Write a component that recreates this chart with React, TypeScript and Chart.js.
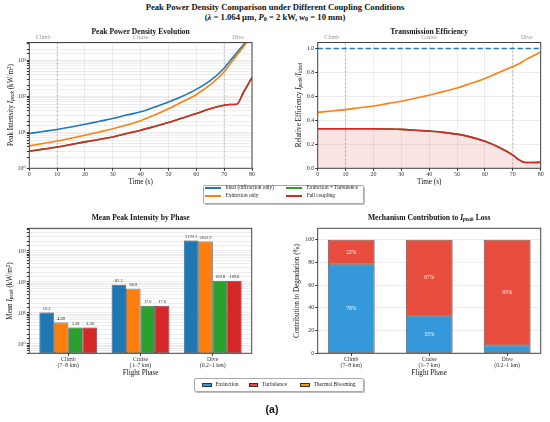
import { Chart, registerables } from "chart.js"
import type { ChartConfiguration, Plugin } from "chart.js"
import { useEffect, useRef } from "react"

Chart.register(...registerables)

const SERIF = '"Liberation Serif", "Times New Roman", "DejaVu Serif", serif'
Chart.defaults.font.family = SERIF
Chart.defaults.color = "#333"

// time axis (s) shared by the two line panels
const TIME = [0, 5, 10, 15, 20, 25, 30, 35, 40, 45, 50, 55, 60, 65, 70, 72, 74.5, 77, 80]

// peak intensity (kW/m^2)
const IDEAL_PEAK = [9.2, 10.5, 12, 14, 16.6, 20, 24, 30, 37, 50, 69, 100, 155, 270, 600, 930, 1590, 2740, 5200]
const EXT_PEAK = [4.2, 4.9, 5.7, 6.8, 8.3, 10.2, 12.6, 16, 21, 30, 45, 70, 112, 210, 480, 760, 1350, 2400, 4800]
const EXT_TURB_PEAK = [3.0, 3.4, 3.9, 4.6, 5.4, 6.3, 7.4, 9.2, 11.4, 14.5, 18.6, 25, 33, 45, 56, 59, 60, 131, 330]
const FULL_PEAK = [3.0, 3.4, 3.9, 4.6, 5.4, 6.3, 7.4, 9.2, 11.4, 14.5, 18.6, 25, 33, 45, 56, 59, 60, 131, 330]

// relative efficiency I_peak / I_ideal
const IDEAL_RATIO = [1, 1, 1, 1, 1, 1, 1, 1, 1, 1, 1, 1, 1, 1, 1, 1, 1, 1, 1]
const EXT_RATIO = [0.467, 0.478, 0.49, 0.505, 0.52, 0.54, 0.56, 0.585, 0.61, 0.64, 0.67, 0.71, 0.75, 0.8, 0.85, 0.87, 0.905, 0.935, 0.97]
const EXT_TURB_RATIO = [0.33, 0.33, 0.33, 0.33, 0.33, 0.328, 0.325, 0.318, 0.31, 0.3, 0.285, 0.26, 0.225, 0.175, 0.11, 0.075, 0.048, 0.048, 0.05]
const FULL_RATIO = [0.33, 0.33, 0.33, 0.33, 0.33, 0.328, 0.325, 0.318, 0.31, 0.3, 0.285, 0.26, 0.225, 0.175, 0.11, 0.075, 0.048, 0.048, 0.05]

const PHASE_LINES = [10, 70]
const PHASE_NAMES = ["Climb", "Cruise", "Dive"]
const PHASE_LABEL_AT = [5, 40, 75]

// per-phase bars
const PHASES = [
	["Climb", "(7–8 km)"],
	["Cruise", "(1–7 km)"],
	["Dive", "(0.2–1 km)"],
]
const MEAN_IDEAL = [10.3, 82.2, 2179.1]
const MEAN_EXT = [4.89, 60.9, 2032.9]
const MEAN_EXT_TURB = [3.38, 17.0, 109.8]
const MEAN_FULL = [3.38, 17.0, 109.8]

const SHARE_EXT = [78, 33, 7]
const SHARE_TURB = [22, 67, 93]
const SHARE_THERMAL = [0, 0, 0]

const C = {
	blue: "#1f77b4",
	orange: "#ff7f0e",
	green: "#2ca02c",
	red: "#d62728",
	ext: "#3498db",
	turb: "#e74c3c",
	thermal: "#f39c12",
}

const SUP: Record<number, string> = { 0: "⁰", 1: "¹", 2: "²", 3: "³", 4: "⁴" }

type Box = { x: number; y: number; w: number; h: number }
type Plot = { left: number; top: number; right: number; bottom: number }

function frame(box: Box, plot: Plot) {
	return {
		padding: { left: 0, top: plot.top - box.y, right: box.x + box.w - plot.right, bottom: 0 },
		yWidth: plot.left - box.x,
		xHeight: box.y + box.h - plot.bottom,
	}
}

const isDecade = (v: number) => {
	const e = Math.log10(v)
	return Math.abs(e - Math.round(e)) < 1e-6
}

const logLabel = (v: number | string) => {
	const n = Number(v)
	return isDecade(n) ? "10" + SUP[Math.round(Math.log10(n))] : ""
}

const frameBorder: Plugin = {
	id: "frameBorder",
	afterDraw(chart) {
		const { ctx, chartArea: a } = chart
		ctx.save()
		ctx.strokeStyle = "#444"
		ctx.lineWidth = 1
		ctx.strokeRect(a.left, a.top, a.right - a.left, a.bottom - a.top)
		ctx.restore()
	},
}

const phaseMarks: Plugin = {
	id: "phaseMarks",
	beforeDatasetsDraw(chart) {
		const { ctx, chartArea: a } = chart
		const xs = chart.scales.x
		ctx.save()
		ctx.strokeStyle = "rgba(120,120,120,0.6)"
		ctx.lineWidth = 0.8
		ctx.setLineDash([2, 2])
		PHASE_LINES.forEach((t) => {
			const px = xs.getPixelForValue(t)
			ctx.beginPath()
			ctx.moveTo(px, a.top)
			ctx.lineTo(px, a.bottom)
			ctx.stroke()
		})
		ctx.restore()
	},
	afterDraw(chart) {
		const { ctx, chartArea: a } = chart
		const xs = chart.scales.x
		ctx.save()
		ctx.fillStyle = "#999"
		ctx.font = `6px ${SERIF}`
		ctx.textAlign = "center"
		ctx.textBaseline = "middle"
		PHASE_NAMES.forEach((n, i) => ctx.fillText(n, xs.getPixelForValue(PHASE_LABEL_AT[i]), a.top - 5.5))
		ctx.restore()
	},
}

const barValueLabels: Plugin = {
	id: "barValueLabels",
	afterDatasetsDraw(chart) {
		const { ctx } = chart
		ctx.save()
		ctx.fillStyle = "#222"
		ctx.font = `4.4px ${SERIF}`
		ctx.textAlign = "center"
		ctx.textBaseline = "bottom"
		chart.data.datasets.forEach((ds, di) => {
			chart.getDatasetMeta(di).data.forEach((bar, i) => {
				const v = (ds.data[i] as { y: number }).y
				ctx.fillText(v >= 10 ? v.toFixed(1) : v.toFixed(2), bar.x, bar.y - 1.5)
			})
		})
		ctx.restore()
	},
}

const shareLabels: Plugin = {
	id: "shareLabels",
	afterDatasetsDraw(chart) {
		const { ctx } = chart
		ctx.save()
		ctx.fillStyle = "#fff"
		ctx.font = `5.5px ${SERIF}`
		ctx.textAlign = "center"
		ctx.textBaseline = "middle"
		chart.data.datasets.forEach((ds, di) => {
			chart.getDatasetMeta(di).data.forEach((bar: any, i) => {
				const v = (ds.data[i] as { y: number }).y
				if (v < 10) return
				ctx.fillText(`${Math.round(v)}%`, bar.x, (bar.y + bar.base) / 2)
			})
		})
		ctx.restore()
	},
}

const GRID = "rgba(0,0,0,0.07)"

function pts(xs: number[], ys: number[]) {
	return xs.map((x, i) => ({ x, y: ys[i] }))
}

// order: lower numbers are painted last, so the full-coupling line sits on top
function lineDs(label: string, data: number[], color: string, order: number, extra: object = {}) {
	return {
		label,
		data: pts(TIME, data),
		borderColor: color,
		backgroundColor: color,
		borderWidth: 1.6,
		pointRadius: 0,
		cubicInterpolationMode: "monotone" as const,
		fill: false,
		order,
		...extra,
	}
}

function timeAxis(f: ReturnType<typeof frame>) {
	return {
		type: "linear" as const,
		min: 0,
		max: 80,
		ticks: { stepSize: 10, font: { size: 6 }, padding: 0.5, maxRotation: 0, autoSkip: false },
		grid: { color: GRID, tickColor: "#333", tickLength: 2.5 },
		border: { display: false },
		afterFit: (s: any) => {
			s.height = f.xHeight
		},
	}
}

const BOX1: Box = { x: 0, y: 26, w: 262, h: 160 }
const PLOT1: Plot = { left: 29.3, top: 42.5, right: 252, bottom: 168.3 }
const BOX2: Box = { x: 280, y: 26, w: 270, h: 160 }
const PLOT2: Plot = { left: 317.7, top: 42.5, right: 540.7, bottom: 168.3 }
const BOX3: Box = { x: 0, y: 222, w: 262, h: 150 }
const PLOT3: Plot = { left: 29.3, top: 228.3, right: 251.7, bottom: 353.3 }
const BOX4: Box = { x: 280, y: 222, w: 270, h: 150 }
const PLOT4: Plot = { left: 317.7, top: 228.3, right: 540.7, bottom: 353.3 }

function peakConfig(): ChartConfiguration {
	const f = frame(BOX1, PLOT1)
	return {
		type: "line",
		data: {
			datasets: [
				lineDs("Ideal (diffraction only)", IDEAL_PEAK, C.blue, 2),
				lineDs("Extinction only", EXT_PEAK, C.orange, 1),
				lineDs("Extinction + Turbulence", EXT_TURB_PEAK, C.green, 3),
				lineDs("Full coupling", FULL_PEAK, C.red, 0),
			],
		},
		options: {
			animation: false,
			responsive: false,
			layout: { padding: f.padding },
			plugins: { legend: { display: false }, tooltip: { enabled: false } },
			scales: {
				x: timeAxis(f),
				y: {
					type: "logarithmic",
					min: 1,
					max: 3100,
					ticks: { callback: logLabel, font: { size: 6 }, padding: 1, autoSkip: false },
					grid: { color: GRID, tickColor: "#333", tickLength: 2.5 },
					border: { display: false },
					afterFit: (s: any) => {
						s.width = f.yWidth
					},
				},
			},
		},
		plugins: [phaseMarks, frameBorder],
	}
}

function ratioConfig(): ChartConfiguration {
	const f = frame(BOX2, PLOT2)
	return {
		type: "line",
		data: {
			datasets: [
				lineDs("Ideal (diffraction only)", IDEAL_RATIO, C.blue, 2, { borderDash: [5, 3] }),
				lineDs("Extinction only", EXT_RATIO, C.orange, 1),
				lineDs("Extinction + Turbulence", EXT_TURB_RATIO, C.green, 3),
				lineDs("Full coupling", FULL_RATIO, C.red, 0, {
					fill: "origin",
					backgroundColor: "rgba(214,39,40,0.13)",
				}),
			],
		},
		options: {
			animation: false,
			responsive: false,
			layout: { padding: f.padding },
			plugins: { legend: { display: false }, tooltip: { enabled: false } },
			scales: {
				x: timeAxis(f),
				y: {
					type: "linear",
					min: 0,
					max: 1.05,
					ticks: {
						stepSize: 0.2,
						includeBounds: false,
						callback: (v) => Number(v).toFixed(1),
						font: { size: 6 },
						padding: 1,
					},
					grid: { color: GRID, tickColor: "#333", tickLength: 2.5 },
					border: { display: false },
					afterFit: (s: any) => {
						s.width = f.yWidth
					},
				},
			},
		},
		plugins: [phaseMarks, frameBorder],
	}
}

function phaseAxis(f: ReturnType<typeof frame>, min: number, max: number, stacked: boolean) {
	return {
		type: "linear" as const,
		min,
		max,
		stacked,
		offset: false,
		afterBuildTicks: (s: any) => {
			s.ticks = PHASES.map((_, i) => ({ value: i }))
		},
		ticks: {
			callback: (v: any) => PHASES[Math.round(Number(v))] ?? "",
			font: { size: 5.8, lineHeight: 1.05 },
			padding: 1,
			maxRotation: 0,
			autoSkip: false,
		},
		grid: { color: "transparent", tickColor: "#333", tickLength: 2.5, offset: false },
		border: { display: false },
		afterFit: (s: any) => {
			s.height = f.xHeight
		},
	}
}

function meanConfig(): ChartConfiguration {
	const f = frame(BOX3, PLOT3)
	const bar = (label: string, data: number[], color: string) => ({
		label,
		data: pts([0, 1, 2], data),
		backgroundColor: color,
		borderColor: "#333",
		borderWidth: 0.7,
		borderSkipped: false as const,
		categoryPercentage: 0.8,
		barPercentage: 1,
	})
	return {
		type: "bar",
		data: {
			datasets: [
				bar("Ideal", MEAN_IDEAL, C.blue),
				bar("Extinction only", MEAN_EXT, C.orange),
				bar("Extinction + Turbulence", MEAN_EXT_TURB, C.green),
				bar("Full coupling", MEAN_FULL, C.red),
			],
		},
		options: {
			animation: false,
			responsive: false,
			layout: { padding: f.padding },
			plugins: { legend: { display: false }, tooltip: { enabled: false } },
			scales: {
				x: phaseAxis(f, -0.54, 2.54, false),
				y: {
					type: "logarithmic",
					min: 0.5,
					max: 5400,
					ticks: { callback: logLabel, font: { size: 6 }, padding: 1, autoSkip: false },
					grid: { color: GRID, tickColor: "#333", tickLength: 2.5 },
					border: { display: false },
					afterFit: (s: any) => {
						s.width = f.yWidth
					},
				},
			},
		},
		plugins: [barValueLabels, frameBorder],
	}
}

function shareConfig(): ChartConfiguration {
	const f = frame(BOX4, PLOT4)
	const bar = (label: string, data: number[], color: string) => ({
		label,
		data: pts([0, 1, 2], data),
		backgroundColor: color,
		borderColor: "#333",
		borderWidth: data.some((v) => v > 0) ? 0.8 : 0,
		borderSkipped: false as const,
		categoryPercentage: 0.6,
		barPercentage: 1,
	})
	return {
		type: "bar",
		data: {
			datasets: [
				bar("Extinction", SHARE_EXT, C.ext),
				bar("Turbulence", SHARE_TURB, C.turb),
				bar("Thermal Blooming", SHARE_THERMAL, C.thermal),
			],
		},
		options: {
			animation: false,
			responsive: false,
			layout: { padding: f.padding },
			plugins: { legend: { display: false }, tooltip: { enabled: false } },
			scales: {
				x: phaseAxis(f, -0.43, 2.43, true),
				y: {
					type: "linear",
					stacked: true,
					min: 0,
					max: 110,
					ticks: { stepSize: 20, includeBounds: false, font: { size: 6 }, padding: 1 },
					grid: { color: GRID, tickColor: "#333", tickLength: 2.5 },
					border: { display: false },
					afterFit: (s: any) => {
						s.width = f.yWidth
					},
				},
			},
		},
		plugins: [shareLabels, frameBorder],
	}
}

function ChartCanvas({ box, config }: { box: Box; config: () => ChartConfiguration }) {
	const ref = useRef<HTMLCanvasElement>(null)
	useEffect(() => {
		if (!ref.current) return
		const chart = new Chart(ref.current, config())
		return () => chart.destroy()
	}, [config])
	return (
		<canvas
			ref={ref}
			width={box.w}
			height={box.h}
			style={{ position: "absolute", left: box.x, top: box.y, width: box.w, height: box.h }}
		/>
	)
}

function Txt({
	x,
	y,
	size,
	bold,
	rot,
	color,
	family,
	children,
}: {
	x: number
	y: number
	size: number
	bold?: boolean
	rot?: number
	color?: string
	family?: string
	children: React.ReactNode
}) {
	return (
		<div
			style={{
				position: "absolute",
				left: x,
				top: y,
				transform: `translate(-50%, -50%)${rot ? ` rotate(${rot}deg)` : ""}`,
				fontSize: size,
				fontWeight: bold ? 700 : 400,
				fontFamily: family ?? SERIF,
				color: color ?? "#111",
				whiteSpace: "nowrap",
				lineHeight: 1,
			}}
		>
			{children}
		</div>
	)
}

const Sub = ({ children }: { children: React.ReactNode }) => (
	<span style={{ fontSize: "0.72em", position: "relative", top: "0.28em", fontStyle: "italic" }}>{children}</span>
)
const SubUp = ({ children }: { children: React.ReactNode }) => (
	<span style={{ fontSize: "0.72em", position: "relative", top: "0.28em" }}>{children}</span>
)
const Sup = ({ children }: { children: React.ReactNode }) => (
	<span style={{ fontSize: "0.7em", position: "relative", top: "-0.4em" }}>{children}</span>
)

const LINE_LEGEND = [
	{ label: "Ideal (diffraction only)", color: C.blue, x: 205, y: 188 },
	{ label: "Extinction only", color: C.orange, x: 205, y: 196 },
	{ label: "Extinction + Turbulence", color: C.green, x: 286, y: 188 },
	{ label: "Full coupling", color: C.red, x: 286, y: 196 },
]

const PATCH_LEGEND = [
	{ label: "Extinction", color: C.ext, x: 202 },
	{ label: "Turbulence", color: C.turb, x: 248.5 },
	{ label: "Thermal Blooming", color: C.thermal, x: 300 },
]

export default function App() {
	const cx1 = (PLOT1.left + PLOT1.right) / 2
	const cx2 = (PLOT2.left + PLOT2.right) / 2
	const cy1 = (PLOT1.top + PLOT1.bottom) / 2
	const cy3 = (PLOT3.top + PLOT3.bottom) / 2
	return (
		<div style={{ position: "absolute", left: 0, top: 0, width: 550, height: 422, background: "#fff", overflow: "hidden" }}>
			<Txt x={275} y={7} size={8.6} bold>
				Peak Power Density Comparison under Different Coupling Conditions
			</Txt>
			<Txt x={275} y={16.5} size={8.6} bold>
				(<i>λ</i> = 1.064 μm, <i>P</i>
				<SubUp>0</SubUp> = 2 kW, <i>w</i>
				<SubUp>0</SubUp> = 10 mm)
			</Txt>

			<ChartCanvas box={BOX1} config={peakConfig} />
			<ChartCanvas box={BOX2} config={ratioConfig} />
			<ChartCanvas box={BOX3} config={meanConfig} />
			<ChartCanvas box={BOX4} config={shareConfig} />

			<Txt x={cx1} y={32.3} size={7.6} bold>
				Peak Power Density Evolution
			</Txt>
			<Txt x={cx2} y={32.3} size={7.6} bold>
				Transmission Efficiency
			</Txt>
			<Txt x={cx1} y={217.7} size={7.6} bold>
				Mean Peak Intensity by Phase
			</Txt>
			<Txt x={cx2} y={217.7} size={7.6} bold>
				Mechanism Contribution to <i>I</i>
				<Sub>peak</Sub> Loss
			</Txt>

			<Txt x={cx1} y={183.3} size={7.2}>
				Time (s)
			</Txt>
			<Txt x={cx2} y={183.3} size={7.2}>
				Time (s)
			</Txt>
			<Txt x={cx1} y={374.3} size={7.2}>
				Flight Phase
			</Txt>
			<Txt x={cx2} y={374.3} size={7.2}>
				Flight Phase
			</Txt>

			<Txt x={12.3} y={cy1} size={7.2} rot={-90}>
				Peak Intensity <i>I</i>
				<Sub>peak</Sub> (kW/m<Sup>2</Sup>)
			</Txt>
			<Txt x={300} y={cy1} size={7.2} rot={-90}>
				Relative Efficiency <i>I</i>
				<Sub>peak</Sub>/<i>I</i>
				<Sub>ideal</Sub>
			</Txt>
			<Txt x={10.5} y={cy3} size={7.2} rot={-90}>
				Mean <i>I</i>
				<Sub>peak</Sub> (kW/m<Sup>2</Sup>)
			</Txt>
			<Txt x={298.3} y={cy3} size={7.2} rot={-90}>
				Contribution to Degradation (%)
			</Txt>

			{/* line legend */}
			<div
				style={{
					position: "absolute",
					left: 202.7,
					top: 184.5,
					width: 161,
					height: 19.5,
					border: "0.8px solid #aaa",
					borderRadius: 2,
					boxShadow: "1px 1px 0 rgba(0,0,0,0.25)",
					background: "#fff",
					boxSizing: "border-box",
				}}
			/>
			{LINE_LEGEND.map((it) => (
				<div key={it.label}>
					<div
						style={{
							position: "absolute",
							left: it.x,
							top: it.y - 0.8,
							width: 16,
							height: 1.6,
							background: it.color,
						}}
					/>
					<div
						style={{
							position: "absolute",
							left: it.x + 20.5,
							top: it.y,
							transform: "translateY(-50%)",
							fontSize: 5.3,
							fontFamily: SERIF,
							color: "#222",
							whiteSpace: "nowrap",
							lineHeight: 1,
						}}
					>
						{it.label}
					</div>
				</div>
			))}

			{/* patch legend */}
			<div
				style={{
					position: "absolute",
					left: 194,
					top: 378,
					width: 169.5,
					height: 13.5,
					border: "0.8px solid #aaa",
					borderRadius: 2,
					boxShadow: "1px 1px 0 rgba(0,0,0,0.25)",
					background: "#fff",
					boxSizing: "border-box",
				}}
			/>
			{PATCH_LEGEND.map((it) => (
				<div key={it.label}>
					<div
						style={{
							position: "absolute",
							left: it.x,
							top: 382.5,
							width: 9.5,
							height: 4.5,
							background: it.color,
							border: "0.6px solid #333",
							boxSizing: "border-box",
						}}
					/>
					<div
						style={{
							position: "absolute",
							left: it.x + 13.5,
							top: 384.7,
							transform: "translateY(-50%)",
							fontSize: 5.5,
							fontFamily: SERIF,
							color: "#222",
							whiteSpace: "nowrap",
							lineHeight: 1,
						}}
					>
						{it.label}
					</div>
				</div>
			))}

			<Txt x={272} y={409} size={10.5} bold family='"Liberation Sans", Arial, sans-serif'>
				(a)
			</Txt>
		</div>
	)
}
